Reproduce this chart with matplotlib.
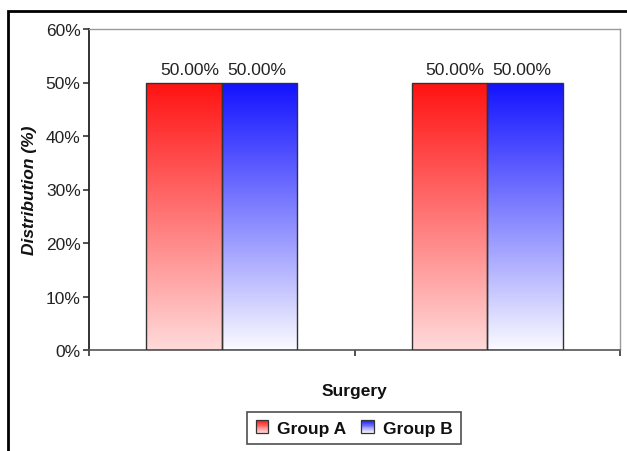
import numpy as np
import matplotlib
matplotlib.use("Agg")
import matplotlib.pyplot as plt
from matplotlib.colors import LinearSegmentedColormap
from matplotlib.patches import Rectangle
from matplotlib.legend_handler import HandlerBase

# Data
categories = ["", ""]
series_names = ["Group A", "Group B"]
group_a = [50.0, 50.0]
group_b = [50.0, 50.0]
y_ticks = [0, 10, 20, 30, 40, 50, 60]

plt.rcParams['font.family'] = ['Liberation Sans', 'DejaVu Sans']
FS = 12.5

# vertical gradients, bottom colour -> top colour
cmap_a = LinearSegmentedColormap.from_list("grad_a", ["#FFDADA", "#FF1212"])
cmap_b = LinearSegmentedColormap.from_list("grad_b", ["#FAFAFF", "#1212FF"])

fig = plt.figure(figsize=(6.27, 4.52), dpi=100)
ax = fig.add_axes([89 / 627, 1 - 351 / 452, (620 - 89) / 627, (351 - 30) / 452])

x = np.arange(len(categories))
width = 0.284
bars_a = ax.bar(x - width / 2, group_a, width, facecolor="none",
                edgecolor="#333333", linewidth=1.0, label=series_names[0], zorder=3)
bars_b = ax.bar(x + width / 2, group_b, width, facecolor="none",
                edgecolor="#333333", linewidth=1.0, label=series_names[1], zorder=3)

grad = np.linspace(0, 1, 256).reshape(-1, 1)
for container, cmap, shift in ((bars_a, cmap_a, 4), (bars_b, cmap_b, -2)):
    for rect in container:
        x0, y0 = rect.get_x(), rect.get_y()
        w, h = rect.get_width(), rect.get_height()
        im = ax.imshow(grad, cmap=cmap, origin="lower", aspect="auto",
                       extent=[x0, x0 + w, y0, y0 + h], zorder=2,
                       interpolation="bilinear")
        im.set_clip_path(rect)
        ax.annotate(f"{h:.2f}%", xy=(x0 + w / 2, h), xytext=(shift, 6),
                    textcoords="offset points", ha="center", va="baseline",
                    fontsize=FS, color="#222222")

ax.set_xlim(-0.5, len(categories) - 0.5)
ax.set_ylim(0, 60)
ax.set_yticks(y_ticks)
ax.set_yticklabels([f"{t}%" for t in y_ticks])
ax.set_xticks(np.arange(len(categories) + 1) - 0.5)
ax.set_xticklabels([])
ax.tick_params(axis="both", direction="out", length=4, width=1.2,
               labelsize=FS, labelcolor="#222222", color="#333333")
ax.tick_params(axis="y", pad=2)

for side in ("top", "right"):
    ax.spines[side].set_color("#9a9a9a")
    ax.spines[side].set_linewidth(1.0)
ax.spines["left"].set_color("#222222")
ax.spines["left"].set_linewidth(1.3)
ax.spines["bottom"].set_color("#555555")
ax.spines["bottom"].set_linewidth(1.2)

ax.set_ylabel("Distribution (%)", fontsize=FS, fontweight="bold",
              fontstyle="italic", color="#111111")
ax.yaxis.set_label_coords(-0.098, 0.5)
ax.set_xlabel("Surgery", fontsize=FS, fontweight="bold", color="#111111")
ax.xaxis.set_label_coords(0.5, -0.102)


class GradientSwatch(HandlerBase):
    def __init__(self, cmap, **kw):
        super().__init__(**kw)
        self.cmap = cmap

    def create_artists(self, legend, orig_handle, xdescent, ydescent,
                       width, height, fontsize, trans):
        n = 14
        arts = []
        for i in range(n):
            arts.append(Rectangle((-xdescent, -ydescent + height * i / n),
                                  width, height / n,
                                  facecolor=self.cmap((i + 0.5) / n),
                                  edgecolor="none", transform=trans))
        arts.append(Rectangle((-xdescent, -ydescent), width, height,
                              facecolor="none", edgecolor="#333333",
                              linewidth=0.9, transform=trans))
        return arts


leg = fig.legend([bars_a, bars_b], series_names, ncol=2,
                 loc="center", bbox_to_anchor=(354 / 627, 1 - 429 / 452),
                 handler_map={bars_a: GradientSwatch(cmap_a),
                              bars_b: GradientSwatch(cmap_b)},
                 prop={"size": FS, "weight": "bold"},
                 handlelength=0.72, handleheight=0.72, handletextpad=0.5,
                 columnspacing=0.9, borderpad=0.5, borderaxespad=0,
                 fancybox=False, frameon=True)
leg.get_frame().set_edgecolor("#222222")
leg.get_frame().set_linewidth(1.2)
for t in leg.get_texts():
    t.set_color("#111111")

# outer frame of the chart area
fig.patches.append(Rectangle((8 / 627, -0.1), 1.0, 1 - 12 / 452 + 0.1,
                             transform=fig.transFigure, fill=False,
                             edgecolor="black", linewidth=2.0, clip_on=False))

fig.savefig("out.png", dpi=100)
